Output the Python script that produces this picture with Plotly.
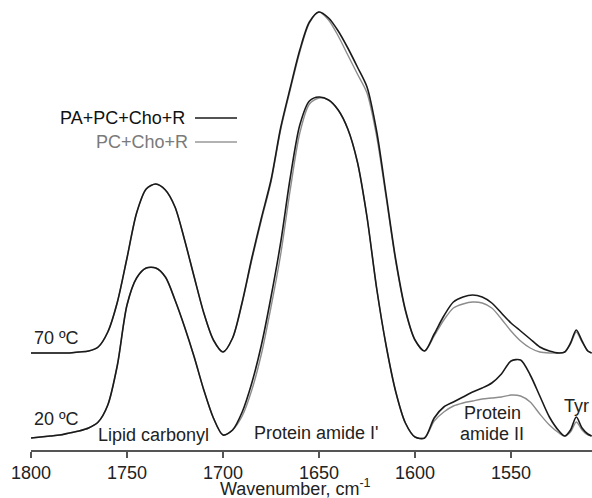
import plotly.graph_objects as go

# Wavenumber grid (cm-1)
wavenumber = [1800, 1795, 1790, 1785, 1780, 1775, 1770, 1765, 1760, 1755, 1750, 1745, 1740,
              1735, 1730, 1725, 1720, 1715, 1710, 1705, 1700, 1695, 1690, 1685, 1680, 1675,
              1670, 1665, 1660, 1655, 1650, 1645, 1640, 1635, 1630, 1625, 1620, 1615, 1610,
              1605, 1600, 1595, 1590, 1585, 1580, 1575, 1570, 1565, 1560, 1555, 1550, 1545,
              1540, 1535, 1530, 1525, 1522, 1519, 1516, 1513, 1510, 1508]

# Absorbance (arbitrary units, offset spectra)
pa_pc_cho_r_20 = [12, 13, 14, 15, 17, 19, 22, 28, 45, 85, 145, 172, 182, 182, 173, 150, 123, 93, 60, 32,
                  15, 20, 38, 67, 105, 153, 207, 272, 325, 349, 353, 350, 340, 321, 288, 233, 162, 104,
                  58, 27, 13, 12, 32, 43, 48, 53, 58, 62, 67, 76, 89, 90, 75, 54, 33, 19, 14, 20, 33,
                  22, 16, 14]
pc_cho_r_20 = [12, 13, 14, 15, 17, 19, 22, 28, 45, 85, 145, 172, 182, 182, 173, 150, 123, 93, 60, 32,
               15, 20, 34, 60, 96, 143, 195, 260, 317, 346, 352, 350, 340, 321, 288, 233, 162, 104,
               58, 27, 13, 12, 29, 38, 44, 47, 49, 51, 52, 53, 55, 54, 48, 36, 25, 17, 14, 18, 28,
               20, 15, 14]
pa_pc_cho_r_70 = [97, 97, 97, 97, 97, 98, 99, 103, 118, 148, 192, 237, 261, 266, 260, 243, 210, 173,
                  137, 110, 98, 112, 148, 192, 232, 270, 322, 362, 400, 428, 438, 432, 419, 402, 383,
                  363, 319, 255, 190, 140, 110, 99, 116, 134, 148, 153, 155, 153, 147, 137, 127, 119,
                  111, 103, 99, 97, 98, 107, 120, 109, 99, 97]
pc_cho_r_70 = [97, 97, 97, 97, 97, 98, 99, 103, 118, 148, 192, 237, 261, 266, 260, 243, 210, 173,
               137, 110, 98, 112, 147, 190, 230, 268, 320, 360, 398, 427, 438, 430, 414, 395, 376,
               357, 314, 252, 188, 139, 110, 99, 114, 130, 142, 146, 148, 147, 142, 131, 119, 109,
               102, 98, 97, 97, 98, 106, 118, 108, 99, 97]

x_ticks = [1800, 1750, 1700, 1650, 1600, 1550]
legend_names = ["PA+PC+Cho+R", "PC+Cho+R"]
temp_labels = ["70 ºC", "20 ºC"]

BLACK = "#1a1a1a"
GRAY = "#8c8c8c"
TXT = "#222222"
FONT = "Liberation Sans, Arial, sans-serif"

fig = go.Figure()
for ys, col, w in [(pc_cho_r_20, GRAY, 1.4), (pc_cho_r_70, GRAY, 1.4),
                   (pa_pc_cho_r_20, BLACK, 1.6), (pa_pc_cho_r_70, BLACK, 1.6)]:
    fig.add_trace(go.Scatter(x=wavenumber, y=ys, mode="lines",
                             line=dict(color=col, width=w, shape="spline", smoothing=0.8),
                             showlegend=False, hoverinfo="skip"))

PL, PW, PH = 31, 561, 450


def px(x):
    return (x - PL) / PW


def py(y):
    return (PH - y) / PH


ann = []
shapes = []
# legend
for name, col, xr, yy in [(legend_names[0], "#111111", 187, 118), (legend_names[1], "#7a7a7a", 190, 142)]:
    ann.append(dict(text=name, x=px(xr), y=py(yy), xref="paper", yref="paper",
                    xanchor="right", yanchor="middle", showarrow=False,
                    font=dict(size=18, color=col, family=FONT)))
    shapes.append(dict(type="line", xref="paper", yref="paper", x0=px(195), x1=px(237),
                       y0=py(yy), y1=py(yy),
                       line=dict(color=BLACK if col == "#111111" else "#999999", width=1.4)))

labels = [
    (temp_labels[0], 32, 338, "left"),
    (temp_labels[1], 32, 419, "left"),
    ("Lipid carbonyl", 153, 435, "center"),
    ("Protein amide I'", 316, 433, "center"),
    ("Protein", 492, 413, "center"),
    ("amide II", 492, 434, "center"),
    ("Tyr", 591, 406, "right"),
]
for t, xx, yy, xa in labels:
    ann.append(dict(text=t, x=px(xx), y=py(yy), xref="paper", yref="paper",
                    xanchor=xa, yanchor="middle", showarrow=False,
                    font=dict(size=18, color=TXT, family=FONT)))

# axis title
ann.append(dict(text="Wavenumber, cm<sup>-1</sup>", x=px(295), y=py(501), xref="paper", yref="paper",
                xanchor="center", yanchor="bottom", showarrow=False,
                font=dict(size=18, color=TXT, family=FONT)))

fig.update_layout(
    width=592, height=498,
    margin=dict(l=PL, r=0, t=0, b=498 - PH),
    paper_bgcolor="white", plot_bgcolor="white",
    annotations=ann, shapes=shapes,
    xaxis=dict(range=[1800, 1800 - PW / 1.92], tickvals=x_ticks,
               ticktext=[str(v) for v in x_ticks],
               showline=True, linecolor="#555555", linewidth=1.5,
               ticks="outside", ticklen=6, tickcolor="#555555", tickwidth=1.5,
               showgrid=False, zeroline=False,
               tickfont=dict(size=18, color=TXT, family=FONT)),
    yaxis=dict(range=[0, 450], visible=False, showgrid=False, zeroline=False),
)

fig.write_html("out.html", config={"displayModeBar": False},
               post_script="document.body.style.margin='0';document.body.style.overflow='hidden';")
